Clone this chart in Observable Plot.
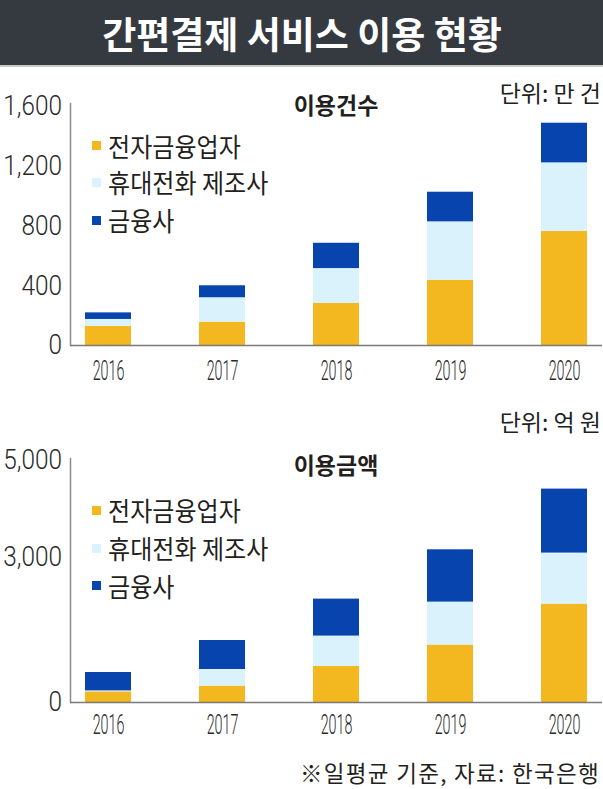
<!DOCTYPE html>
<html>
<head>
<meta charset="utf-8">
<script src="https://cdn.jsdelivr.net/npm/d3@7"></script>
<script src="https://cdn.jsdelivr.net/npm/@observablehq/plot@0.6"></script>
<style>
  html, body { margin: 0; padding: 0; background: #fff; }
  #root { position: relative; width: 603px; height: 789px; overflow: hidden;
          font-family: "Noto Sans CJK KR", "Noto Sans", sans-serif; color: #231f20; }
  .abs { position: absolute; line-height: 1.1; white-space: nowrap; }
  #titlebar { position: absolute; left: 0; top: 0; width: 603px; height: 65px; background: #353a41;
              border-bottom: 2px solid #c9c9c9; }
  .chart { position: absolute; left: 0; }
  .sq { position: absolute; width: 9px; height: 9px; }
</style>
</head>
<body>
<div id="root"><div id="titlebar"></div></div>
<script>
// ---------- data ----------
const years = ["2016", "2017", "2018", "2019", "2020"];
const series = ["전자금융업자", "휴대전화 제조사", "금융사"];
const colors = ["#f3b71f", "#d9f2fb", "#0744ae"];

// 이용건수 (단위: 만 건)
const countElec  = [127, 156, 281, 436, 762];
const countPhone = [47, 163, 233, 390, 458];
const countFin   = [44, 80, 169, 198, 265];
const countTicks = [0, 400, 800, 1200, 1600];

// 이용금액 (단위: 억 원)
const amountElec  = [220, 339, 744, 1186, 2033];
const amountPhone = [20, 343, 628, 888, 1054];
const amountFin   = [380, 599, 764, 1081, 1322];
const amountTicks = [0, 3000, 5000];

const mainTitle = "간편결제 서비스 이용 현황";
const countTitle = "이용건수";
const amountTitle = "이용금액";
const countUnit = "단위: 만 건";
const amountUnit = "단위: 억 원";
const note = "※일평균 기준, 자료: 한국은행";

// ---------- helpers ----------
const root = document.getElementById("root");

function place(text, x, y, anchor, css) {
  const d = document.createElement("div");
  d.className = "abs";
  d.textContent = text;
  if (anchor === "end") d.style.right = (603 - x) + "px";
  else d.style.left = x + "px";
  d.style.top = y + "px";
  const tx = anchor === "middle" ? "-50%" : "0";
  d.style.transform = `translate(${tx}, -50%)` + (css.scaleX ? ` scaleX(${css.scaleX})` : "");
  if (css.scaleX) d.style.transformOrigin = anchor === "end" ? "right center" : "left center";
  for (const k of ["fontSize", "fontWeight", "color", "letterSpacing"]) if (css[k]) d.style[k] = css[k];
  root.appendChild(d);
  return d;
}

function toTable(a, b, c) {
  const rows = [];
  const vals = [a, b, c];
  series.forEach((s, si) => years.forEach((yr, i) => rows.push({year: yr, series: s, value: vals[si][i]})));
  return rows;
}

// horizontally condense tick labels around their anchor point
function squeeze(svg, selector, ratio, anchor) {
  svg.querySelectorAll(selector).forEach(t => {
    const b = t.getBBox();
    const cx = anchor === "end" ? b.x + b.width : b.x + b.width / 2;
    const existing = t.getAttribute("transform") || "";
    t.setAttribute("transform", `${existing} translate(${cx.toFixed(2)},0) scale(${ratio},1) translate(${(-cx).toFixed(2)},0)`.trim());
  });
}

function chart({data, top, height, mt, mb, max, ticks, xpad, insetTop}) {
  const svg = Plot.plot({
    width: 603,
    height,
    marginLeft: 70,
    marginRight: 1,
    marginTop: mt,
    marginBottom: mb,
    style: {fontFamily: "Roboto, 'Liberation Sans', sans-serif", fontWeight: 300, color: "#2a2a2a", background: "transparent"},
    x: {type: "band", domain: years, paddingInner: 0.593, paddingOuter: 0.127, label: null},
    y: {domain: [0, max], label: null},
    color: {domain: series, range: colors},
    marks: [
      Plot.barY(data, {x: "year", y: "value", fill: "series"}),
      Plot.frame({anchor: "left", stroke: "#8a8a8a", strokeWidth: 1.5, insetTop}),
      Plot.ruleY([0], {stroke: "#7a7a7a", strokeWidth: 1.6}),
      Plot.axisY({ticks, tickSize: 0, tickPadding: 8.5, fontSize: 28, label: null, tickFormat: d3.format(",")}),
      Plot.axisX({tickSize: 0, tickPadding: xpad, fontSize: 27, label: null})
    ]
  });
  svg.classList.add("chart");
  svg.style.top = top + "px";
  root.appendChild(svg);
  squeeze(svg, 'g[aria-label="y-axis tick label"] text', 0.87, "end");
  squeeze(svg, 'g[aria-label="x-axis tick label"] text', 0.53, "middle");
  return svg;
}

function legend(x, ys) {
  series.forEach((s, i) => {
    const sq = document.createElement("div");
    sq.className = "sq";
    sq.style.left = x + "px";
    sq.style.top = (ys[i] - 4.5) + "px";
    sq.style.background = colors[i];
    root.appendChild(sq);
    place(s, x + 16, ys[i], "start", {fontSize: "26px", scaleX: 0.925, color: "#231f20"});
  });
}

// ---------- title bar ----------
place(mainTitle, 302, 33, "middle", {fontSize: "37px", fontWeight: "700", color: "#ffffff"});

// ---------- chart 1: 이용건수 ----------
chart({data: toTable(countElec, countPhone, countFin), top: 80, height: 310, mt: 25.5, mb: 45,
       max: 1600, ticks: countTicks, xpad: 15, insetTop: -2.5});
place(countUnit, 601, 93, "end", {fontSize: "23px", color: "#231f20"});
place(countTitle, 336, 105, "middle", {fontSize: "23px", fontWeight: "700", color: "#231f20"});
legend(92, [145.5, 182, 220]);

// ---------- chart 2: 이용금액 ----------
chart({data: toTable(amountElec, amountPhone, amountFin), top: 400, height: 345, mt: 60, mb: 43,
       max: 5000, ticks: amountTicks, xpad: 12, insetTop: -2});
place(amountUnit, 601, 422, "end", {fontSize: "23px", color: "#231f20"});
place(amountTitle, 336, 465, "middle", {fontSize: "23px", fontWeight: "700", color: "#231f20"});
legend(92, [510, 548, 585.5]);

// ---------- note ----------
place(note, 600, 772, "end", {fontSize: "22.5px", letterSpacing: "1.3px", color: "#231f20"});
</script>
</body>
</html>
